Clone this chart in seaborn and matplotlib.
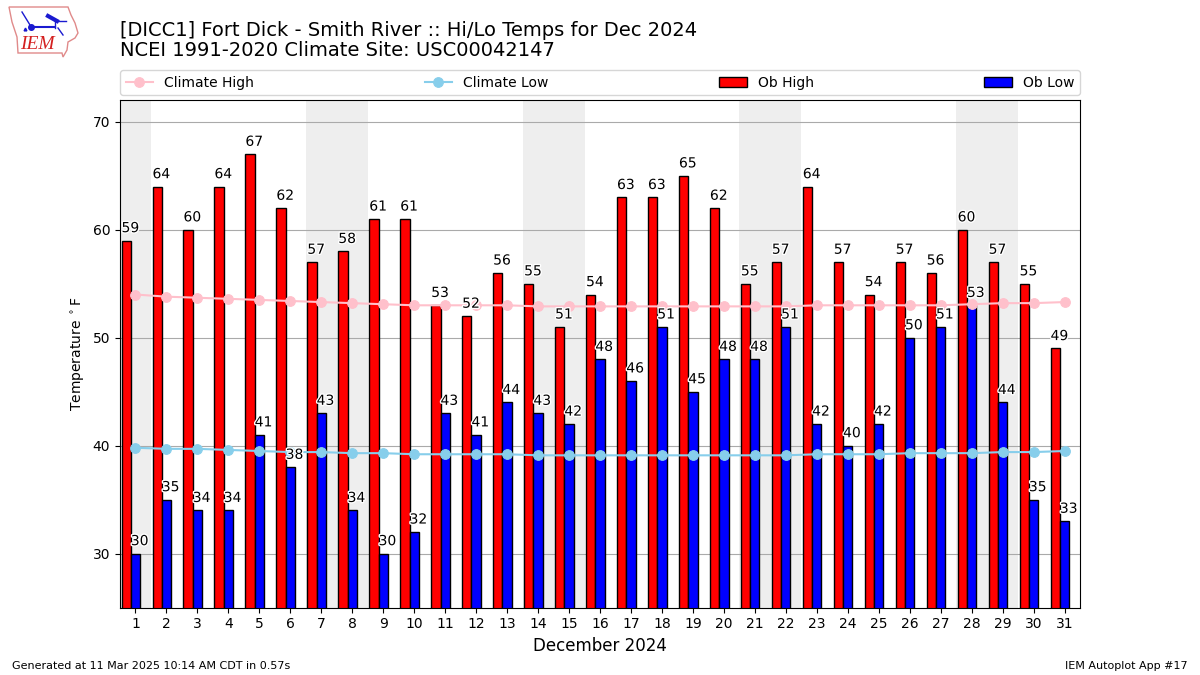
import numpy as np
import pandas as pd
import seaborn as sns
import matplotlib
matplotlib.use("Agg")
import matplotlib.pyplot as plt
import matplotlib.patheffects as pe
from matplotlib.patches import Polygon

days = list(range(1, 32))
ob_high = [59, 64, 60, 64, 67, 62, 57, 58, 61, 61, 53, 52, 56, 55, 51, 54,
           63, 63, 65, 62, 55, 57, 64, 57, 54, 57, 56, 60, 57, 55, 49]
ob_low = [30, 35, 34, 34, 41, 38, 43, 34, 30, 32, 43, 41, 44, 43, 42, 48,
          46, 51, 45, 48, 48, 51, 42, 40, 42, 50, 51, 53, 44, 35, 33]
climate_high = [54.0, 53.8, 53.7, 53.6, 53.5, 53.4, 53.3, 53.2, 53.1, 53.0, 53.0,
                53.0, 53.0, 52.9, 52.9, 52.9, 52.9, 52.9, 52.9, 52.9, 52.9,
                52.9, 53.0, 53.0, 53.0, 53.0, 53.0, 53.1, 53.2, 53.2, 53.3]
climate_low = [39.8, 39.7, 39.7, 39.6, 39.5, 39.4, 39.4, 39.3, 39.3, 39.2, 39.2,
               39.2, 39.2, 39.1, 39.1, 39.1, 39.1, 39.1, 39.1, 39.1, 39.1,
               39.1, 39.2, 39.2, 39.2, 39.3, 39.3, 39.3, 39.4, 39.4, 39.5]
weekend_starts = [0.5, 6.5, 13.5, 20.5, 27.5]
weekend_ends = [1.5, 8.5, 15.5, 22.5, 29.5]

df = pd.DataFrame({"day": days, "high": ob_high, "low": ob_low,
                   "clim_high": climate_high, "clim_low": climate_low})
width = 0.3

fig = plt.figure(figsize=(12, 6.75), dpi=100)
ax = fig.add_axes([0.1, 0.1, 0.8, 0.7515])

for s, e in zip(weekend_starts, weekend_ends):
    ax.axvspan(s, e, color="#eeeeee", zorder=0, lw=0)

# high bars sit one bar width left of the low ones
sns.barplot(x=df["day"] - width, y=df["high"], native_scale=True, width=width, errorbar=None,
            color="red", saturation=1, edgecolor="k", linewidth=1, ax=ax, zorder=2)
sns.barplot(x=df["day"], y=df["low"], native_scale=True, width=width, errorbar=None,
            color="blue", saturation=1, edgecolor="k", linewidth=1, ax=ax, zorder=2)
sns.lineplot(data=df, x="day", y="clim_high", color="pink", marker="o", markersize=7,
             markeredgecolor="pink", lw=1.5, errorbar=None, ax=ax, zorder=3)
sns.lineplot(data=df, x="day", y="clim_low", color="skyblue", marker="o", markersize=7,
             markeredgecolor="skyblue", lw=1.5, errorbar=None, ax=ax, zorder=3)

outline = [pe.withStroke(linewidth=2, foreground="white")]
for d, hi, lo in zip(days, ob_high, ob_low):
    ax.text(d - 1.5 * width, hi + 0.5, str(hi), ha="left", va="bottom", fontsize=10,
            path_effects=outline, zorder=4)
    ax.text(d - 0.5 * width, lo + 0.5, str(lo), ha="left", va="bottom", fontsize=10,
            path_effects=outline, zorder=4)

ax.set_xlim(0.5, 31.5)
ax.set_ylim(25, 72)
ax.set_xticks(days)
ax.set_xticklabels([str(d) for d in days])
ax.set_yticks([30, 40, 50, 60, 70])
ax.yaxis.grid(True, color="#aaaaaa", lw=0.8)
ax.xaxis.grid(False)
ax.set_axisbelow(True)
ax.set_xlabel("December 2024", fontsize=12)
ax.set_ylabel(r"Temperature $^\circ$F", fontsize=10)

handles = [ax.lines[-2], ax.lines[-1], ax.containers[0], ax.containers[1]]
names = ["Climate High", "Climate Low", "Ob High", "Ob Low"]
ax.legend(handles, names, ncol=4, mode="expand", loc="lower left",
          bbox_to_anchor=(0, 1.01, 1, 0.05), borderaxespad=0, fontsize=10)

fig.text(120 / 1200, 1 - 60 / 675, "[DICC1] Fort Dick - Smith River :: Hi/Lo Temps for Dec 2024\n"
         "NCEI 1991-2020 Climate Site: USC00042147", fontsize=14, ha="left", va="bottom",
         linespacing=1.1)
fig.text(12 / 1200, 1 - 666 / 675, "Generated at 11 Mar 2025 10:14 AM CDT in 0.57s",
         fontsize=8, ha="left", va="center")
fig.text(1188 / 1200, 1 - 666 / 675, "IEM Autoplot App #17", fontsize=8, ha="right", va="center")

# rough IEM logo
logo = fig.add_axes([8 / 1200, 1 - 60 / 675, 72 / 1200, 54 / 675])
logo.set_xlim(8, 80)
logo.set_ylim(60, 6)
logo.axis("off")
logo.add_patch(Polygon([(9, 7), (68, 7), (71, 15), (75, 23), (78, 33), (75, 38), (68, 42),
                        (67, 50), (63, 57), (62, 53), (18, 53), (17, 37), (12, 22)],
                       closed=True, fc="white", ec="#e08a8a", lw=1))
blue = "#1a1ad0"
logo.plot([32, 55], [27, 27], color=blue, lw=1.5)
logo.plot([31], [27], "o", color=blue, ms=4)
logo.plot([22, 30], [12, 25], color=blue, lw=1)
logo.plot([48, 57], [16, 21], color=blue, lw=3)
logo.plot([57, 66], [21, 21], color=blue, lw=1)
logo.plot([55, 55], [20, 28], color=blue, lw=1)
logo.plot([58, 63], [28, 35], color=blue, lw=1)
logo.plot([25], [29], "^", color=blue, ms=2)
logo.text(37.5, 44.5, "IEM", color="#d42020", family="Liberation Serif", style="italic",
          fontsize=14, ha="center", va="center")

fig.savefig("out.png", dpi=100)
